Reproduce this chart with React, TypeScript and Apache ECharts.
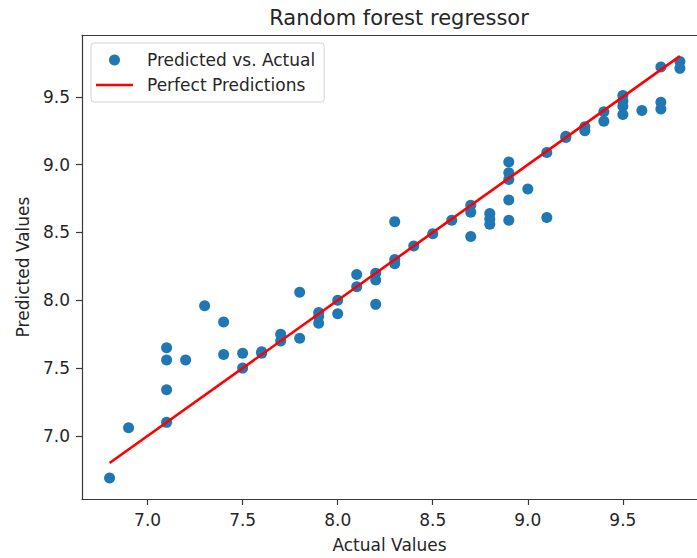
import React, { useEffect, useRef } from "react";
import * as echarts from "echarts";

const actual = [
  6.8, 6.9, 7.1, 7.1, 7.1, 7.1, 7.2, 7.3, 7.4, 7.4, 7.5, 7.5, 7.6, 7.6, 7.7, 7.7,
  7.8, 7.8, 7.9, 7.9, 7.9, 8.0, 8.0, 8.1, 8.1, 8.2, 8.2, 8.2, 8.3, 8.3, 8.3, 8.4,
  8.5, 8.6, 8.7, 8.7, 8.7, 8.8, 8.8, 8.8, 8.9, 8.9, 8.9, 8.9, 8.9, 9.0, 9.1, 9.1,
  9.2, 9.2, 9.3, 9.3, 9.4, 9.4, 9.5, 9.5, 9.5, 9.5, 9.6, 9.7, 9.7, 9.7, 9.8, 9.8,
];
const predicted = [
  6.69, 7.06, 7.10, 7.34, 7.56, 7.65, 7.56, 7.96, 7.84, 7.60, 7.61, 7.50, 7.61, 7.62, 7.75, 7.70,
  8.06, 7.72, 7.91, 7.83, 7.88, 8.00, 7.90, 8.19, 8.10, 8.20, 8.15, 7.97, 8.58, 8.30, 8.27, 8.40,
  8.49, 8.59, 8.70, 8.65, 8.47, 8.64, 8.60, 8.56, 9.02, 8.94, 8.89, 8.74, 8.59, 8.82, 9.09, 8.61,
  9.20, 9.21, 9.25, 9.28, 9.39, 9.32, 9.51, 9.47, 9.43, 9.37, 9.40, 9.72, 9.46, 9.41, 9.76, 9.71,
];
const perfectLine = [6.8, 9.8];
const xTicks = [7.0, 7.5, 8.0, 8.5, 9.0, 9.5];
const yTicks = [7.0, 7.5, 8.0, 8.5, 9.0, 9.5];

const FONT = "DejaVu Sans";
const AXIS_COLOR = "#3a3a3a";
const TEXT_COLOR = "#262626";
const X_MIN = 6.655;
const X_MAX = 9.89;

export default function App() {
  const ref = useRef<HTMLDivElement>(null);
  useEffect(() => {
    if (!ref.current) return;
    const chart = echarts.init(ref.current, null, { renderer: "svg" });
    const axisLine = { show: true, lineStyle: { color: AXIS_COLOR, width: 1.2 } };
    const tick = { show: true, length: 6, lineStyle: { color: AXIS_COLOR, width: 1.2 } };
    const label = {
      formatter: (v: number) => v.toFixed(1),
      fontFamily: FONT,
      fontSize: 17,
      color: TEXT_COLOR,
      margin: 12,
    };
    chart.setOption({
      animation: false,
      backgroundColor: "#ffffff",
      textStyle: { fontFamily: FONT },
      title: {
        text: "Random forest regressor",
        left: 394,
        top: 2,
        textAlign: "center",
        textStyle: { fontFamily: FONT, fontSize: 21, fontWeight: "normal", color: TEXT_COLOR },
      },
      grid: { left: 82, top: 35, right: 0, bottom: 56, show: false },
      legend: {
        orient: "vertical",
        left: 91,
        top: 43,
        selectedMode: false,
        data: [
          { name: "Predicted vs. Actual", icon: "circle" },
          { name: "Perfect Predictions", icon: "path://M0,0 H37 V2.6 H0 Z" },
        ],
        itemWidth: 37,
        itemHeight: 11,
        itemGap: 5,
        padding: [7, 9, 7, 5],
        borderColor: "#d4d4d4",
        borderWidth: 1,
        borderRadius: 3,
        backgroundColor: "rgba(255,255,255,0.8)",
        textStyle: {
          fontFamily: FONT,
          fontSize: 17,
          color: TEXT_COLOR,
          lineHeight: 20,
          padding: [0, 0, 0, 9],
        },
      },
      xAxis: [
        {
          type: "value",
          min: X_MIN,
          max: X_MAX,
          position: "bottom",
          name: "Actual Values",
          nameLocation: "middle",
          nameGap: 37,
          nameTextStyle: { fontFamily: FONT, fontSize: 17, color: TEXT_COLOR },
          axisLine,
          axisTick: { ...tick, customValues: xTicks },
          axisLabel: { ...label, customValues: xTicks },
          splitLine: { show: false },
        },
        {
          type: "value",
          min: X_MIN,
          max: X_MAX,
          position: "top",
          axisLine,
          axisTick: { show: false },
          axisLabel: { show: false },
          splitLine: { show: false },
        },
      ],
      yAxis: {
        type: "value",
        min: 6.535,
        max: 9.956,
        name: "Predicted Values",
        nameLocation: "middle",
        nameGap: 51,
        nameTextStyle: { fontFamily: FONT, fontSize: 17, color: TEXT_COLOR },
        axisLine,
        axisTick: { ...tick, customValues: yTicks },
        axisLabel: { ...label, customValues: yTicks },
        splitLine: { show: false },
      },
      series: [
        {
          name: "Predicted vs. Actual",
          type: "scatter",
          xAxisIndex: 0,
          data: actual.map((a, i) => [a, predicted[i]]),
          symbolSize: 11,
          itemStyle: { color: "#1f77b4", opacity: 1 },
          z: 2,
        },
        {
          name: "Perfect Predictions",
          type: "line",
          xAxisIndex: 0,
          data: perfectLine.map((v) => [v, v]),
          symbol: "none",
          lineStyle: { color: "#ff0000", width: 2.6 },
          itemStyle: { color: "#ff0000" },
          z: 3,
        },
      ],
    });
    return () => chart.dispose();
  }, []);
  return (
    <div
      ref={ref}
      style={{ position: "absolute", left: 0, top: 0, width: 697, height: 558 }}
    />
  );
}
